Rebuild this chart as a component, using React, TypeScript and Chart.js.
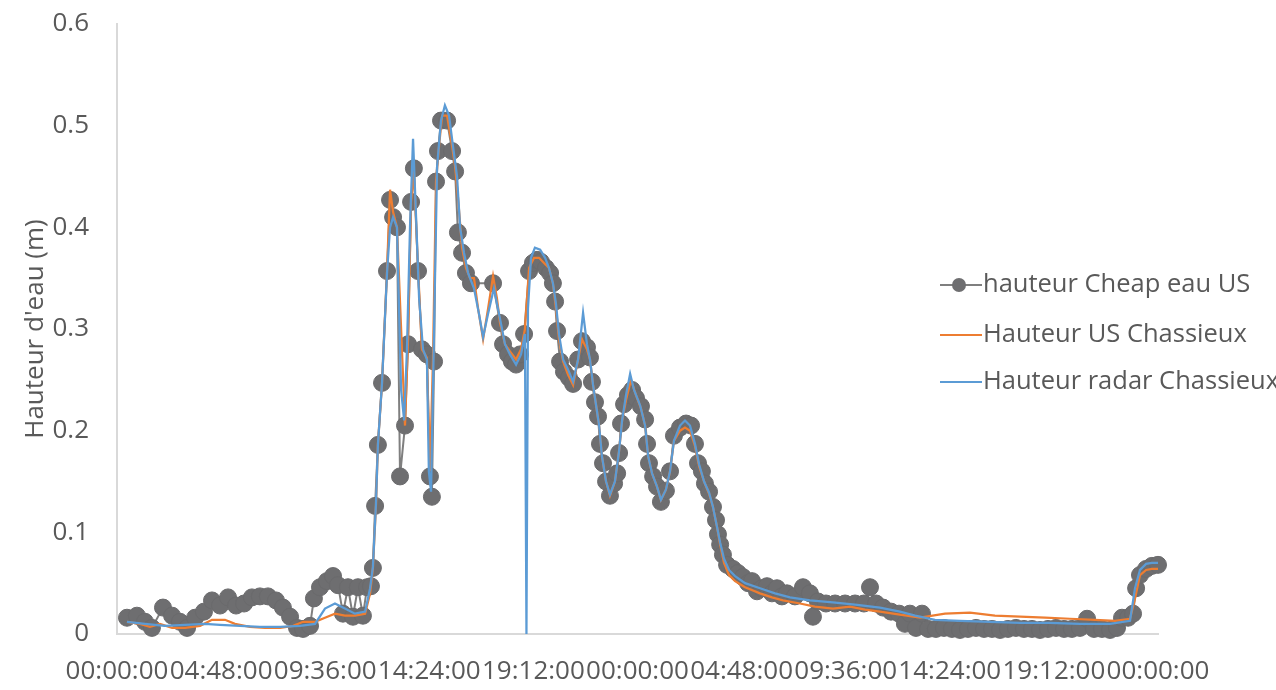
import React, { useEffect, useRef } from "react";
import { Chart, registerables } from "chart.js";

Chart.register(...registerables);

const FONT = "'Open Sans', 'Noto Sans', sans-serif";
const TEXT = "#595959";

// Time in hours from the start, water height in metres
const cheapTime = [0.46,0.92,1.29,1.61,2.12,2.54,2.90,3.23,3.60,4.01,4.38,4.75,5.12,5.49,5.86,6.22,6.59,6.96,7.33,7.65,7.98,8.30,8.58,8.90,9.08,9.36,9.68,9.96,10.19,10.42,10.65,10.88,11.11,11.34,11.53,11.71,11.80,11.90,12.03,12.22,12.45,12.59,12.73,12.91,13.05,13.28,13.42,13.56,13.69,13.88,14.06,14.29,14.43,14.52,14.62,14.71,14.80,14.94,15.22,15.45,15.59,15.72,15.91,16.09,16.32,17.34,17.66,17.80,18.03,18.21,18.40,18.58,18.77,19.00,19.18,19.37,19.55,19.78,19.97,20.10,20.20,20.29,20.43,20.61,20.84,21.03,21.26,21.44,21.67,21.81,21.90,22.04,22.18,22.27,22.41,22.55,22.73,22.92,23.06,23.15,23.24,23.38,23.56,23.75,23.93,24.16,24.35,24.44,24.53,24.72,24.90,25.08,25.31,25.50,25.68,25.96,26.24,26.47,26.65,26.79,26.97,27.11,27.30,27.48,27.62,27.71,27.81,27.94,28.13,28.40,28.63,28.86,29.10,29.28,29.51,29.74,29.97,30.20,30.43,30.66,30.89,31.26,31.63,31.95,32.09,32.32,32.69,33.11,33.57,34.03,34.44,34.72,35.00,35.32,35.69,36.06,36.33,36.56,36.84,37.12,37.40,37.76,38.13,38.50,38.87,39.24,39.61,39.98,40.35,40.72,41.08,41.45,41.82,42.19,42.56,42.93,43.30,43.67,44.03,44.40,44.73,45.05,45.42,45.79,46.11,46.34,46.62,46.85,46.99,47.17,47.45,47.72,48.00];
const cheapHeight = [0.016,0.018,0.012,0.006,0.026,0.018,0.012,0.006,0.016,0.022,0.033,0.028,0.036,0.028,0.030,0.036,0.037,0.037,0.033,0.026,0.017,0.006,0.005,0.008,0.035,0.046,0.052,0.057,0.048,0.020,0.046,0.017,0.046,0.018,0.046,0.047,0.065,0.126,0.186,0.247,0.357,0.427,0.410,0.400,0.155,0.205,0.285,0.425,0.458,0.357,0.280,0.275,0.155,0.135,0.268,0.445,0.475,0.505,0.505,0.475,0.455,0.395,0.375,0.355,0.345,0.345,0.306,0.285,0.275,0.268,0.265,0.275,0.295,0.357,0.365,0.368,0.366,0.360,0.355,0.345,0.327,0.298,0.268,0.258,0.252,0.246,0.270,0.288,0.282,0.272,0.248,0.228,0.214,0.187,0.168,0.150,0.136,0.148,0.158,0.178,0.207,0.226,0.235,0.240,0.232,0.224,0.211,0.187,0.168,0.155,0.145,0.130,0.141,0.160,0.195,0.203,0.207,0.205,0.187,0.168,0.160,0.148,0.140,0.125,0.112,0.098,0.088,0.078,0.068,0.064,0.060,0.056,0.050,0.052,0.042,0.045,0.047,0.040,0.045,0.037,0.040,0.037,0.046,0.040,0.017,0.032,0.030,0.030,0.030,0.030,0.030,0.046,0.030,0.026,0.022,0.020,0.010,0.020,0.006,0.020,0.005,0.005,0.006,0.005,0.004,0.005,0.006,0.005,0.005,0.004,0.005,0.006,0.005,0.005,0.004,0.005,0.006,0.005,0.005,0.006,0.015,0.005,0.005,0.004,0.006,0.016,0.016,0.020,0.045,0.058,0.064,0.067,0.068];

const usTime = [0.46,1.06,1.52,1.98,2.54,3.14,3.83,4.38,4.98,5.44,6.13,6.82,7.52,8.12,8.58,9.13,9.59,10.05,10.51,10.97,11.44,11.67,11.80,11.94,12.03,12.22,12.45,12.59,12.73,12.91,13.10,13.28,13.42,13.56,13.69,13.88,14.06,14.29,14.43,14.57,14.71,14.85,14.99,15.22,15.45,15.59,15.72,15.91,16.09,16.28,16.46,16.65,16.88,17.11,17.34,17.52,17.66,17.89,18.12,18.40,18.63,18.81,19.00,19.23,19.46,19.69,19.92,20.10,20.24,20.38,20.57,20.80,21.03,21.26,21.44,21.67,21.81,21.95,22.09,22.23,22.36,22.55,22.73,22.96,23.15,23.29,23.47,23.70,23.93,24.16,24.35,24.49,24.67,24.90,25.08,25.31,25.50,25.68,25.96,26.19,26.42,26.65,26.84,27.07,27.30,27.48,27.67,27.81,27.99,28.22,28.50,28.96,29.65,30.20,30.71,31.49,32.18,33.01,33.80,34.49,35.18,36.10,37.03,38.18,39.33,40.48,41.64,42.79,43.94,45.10,46.02,46.71,46.94,47.17,47.45,47.72,48.00];
const usHeight = [0.012,0.010,0.007,0.010,0.006,0.006,0.008,0.014,0.014,0.010,0.007,0.006,0.006,0.008,0.012,0.012,0.016,0.020,0.018,0.018,0.020,0.040,0.065,0.126,0.186,0.247,0.357,0.437,0.415,0.400,0.300,0.205,0.290,0.425,0.455,0.360,0.280,0.272,0.160,0.270,0.445,0.480,0.510,0.510,0.480,0.460,0.430,0.380,0.360,0.350,0.350,0.320,0.290,0.320,0.352,0.330,0.306,0.285,0.278,0.270,0.280,0.300,0.360,0.370,0.370,0.365,0.360,0.345,0.320,0.290,0.268,0.255,0.245,0.270,0.290,0.280,0.270,0.245,0.225,0.205,0.175,0.150,0.136,0.150,0.180,0.210,0.230,0.250,0.235,0.222,0.205,0.175,0.158,0.145,0.132,0.142,0.160,0.190,0.200,0.203,0.200,0.185,0.165,0.150,0.138,0.125,0.105,0.088,0.070,0.058,0.052,0.046,0.040,0.036,0.033,0.030,0.027,0.025,0.027,0.024,0.022,0.019,0.016,0.020,0.021,0.018,0.017,0.016,0.015,0.014,0.013,0.015,0.035,0.058,0.063,0.064,0.064];

const radarTime = [0.46,1.29,2.21,3.14,4.06,4.75,5.67,6.59,7.52,8.44,9.13,9.59,10.05,10.51,10.97,11.44,11.67,11.80,11.94,12.03,12.22,12.45,12.59,12.73,12.91,13.10,13.24,13.37,13.51,13.65,13.79,13.93,14.11,14.29,14.38,14.48,14.62,14.76,14.94,15.12,15.31,15.49,15.68,15.82,16.00,16.19,16.46,16.69,16.88,17.11,17.38,17.66,17.89,18.12,18.40,18.63,18.81,18.88,18.95,19.09,19.27,19.51,19.74,19.92,20.10,20.24,20.38,20.57,20.80,21.03,21.26,21.49,21.67,21.81,21.95,22.09,22.23,22.36,22.55,22.73,22.96,23.15,23.29,23.47,23.66,23.84,24.12,24.35,24.49,24.67,24.90,25.08,25.31,25.50,25.68,25.96,26.19,26.42,26.65,26.84,27.07,27.30,27.48,27.67,27.81,27.99,28.22,28.50,28.96,29.65,30.34,31.03,31.95,33.01,34.03,35.18,36.10,36.80,37.72,38.87,40.25,41.64,43.02,44.40,45.79,46.71,46.94,47.17,47.45,47.72,48.00];
const radarHeight = [0.012,0.010,0.008,0.009,0.010,0.009,0.008,0.007,0.007,0.008,0.010,0.025,0.030,0.025,0.020,0.022,0.045,0.066,0.128,0.186,0.247,0.355,0.400,0.410,0.400,0.240,0.210,0.280,0.400,0.487,0.410,0.330,0.280,0.270,0.160,0.140,0.300,0.460,0.505,0.520,0.510,0.480,0.450,0.400,0.375,0.355,0.340,0.315,0.292,0.315,0.340,0.310,0.285,0.275,0.265,0.275,0.295,0.000,0.320,0.370,0.380,0.378,0.370,0.360,0.345,0.325,0.295,0.270,0.260,0.248,0.270,0.316,0.285,0.270,0.245,0.225,0.205,0.175,0.150,0.137,0.150,0.180,0.210,0.235,0.256,0.240,0.225,0.205,0.175,0.158,0.145,0.132,0.142,0.160,0.190,0.205,0.210,0.205,0.187,0.167,0.150,0.139,0.125,0.105,0.090,0.074,0.063,0.057,0.050,0.045,0.040,0.036,0.033,0.031,0.029,0.026,0.022,0.018,0.014,0.013,0.012,0.011,0.011,0.010,0.010,0.013,0.045,0.063,0.069,0.070,0.070];

const xTickHours = [0, 4.8, 9.6, 14.4, 19.2, 24, 28.8, 33.6, 38.4, 43.2, 48];
const yTickValues = [0, 0.1, 0.2, 0.3, 0.4, 0.5, 0.6];
const yTickLabels = ["0", "0.1", "0.2", "0.3", "0.4", "0.5", "0.6"];

const seriesLabels = ["hauteur Cheap eau US", "Hauteur US Chassieux", "Hauteur radar Chassieux"];
const yAxisTitle = "Hauteur d'eau (m)";

const pad2 = (n: number) => String(n).padStart(2, "0");
const formatTime = (hours: number) => {
  const total = Math.round(hours * 60);
  const h = Math.floor(total / 60) % 24;
  const m = total % 60;
  return `${pad2(h)}:${pad2(m)}:00`;
};

const toPoints = (t: number[], v: number[]) => t.map((x, i) => ({ x, y: v[i] }));

const sideLegend = {
  id: "sideLegend",
  afterDraw(chart: any) {
    const { ctx, chartArea } = chart;
    const x0 = chartArea.right - 218;
    const yc = (chartArea.top + chartArea.bottom) / 2;
    const ys = [yc - 44, yc + 6, yc + 53];
    ctx.save();
    ctx.font = `25.5px ${FONT}`;
    ctx.textBaseline = "middle";
    ctx.textAlign = "left";
    chart.data.datasets.forEach((ds: any, i: number) => {
      const y = ys[i];
      ctx.strokeStyle = ds.borderColor;
      ctx.lineWidth = 2;
      ctx.beginPath();
      ctx.moveTo(x0, y);
      ctx.lineTo(x0 + 42, y);
      ctx.stroke();
      if (ds.pointRadius > 0) {
        ctx.fillStyle = ds.pointBackgroundColor;
        ctx.beginPath();
        ctx.arc(x0 + 19, y, 7, 0, Math.PI * 2);
        ctx.fill();
      }
      ctx.fillStyle = TEXT;
      ctx.fillText(ds.label, x0 + 43, y);
    });
    ctx.restore();
  },
};

export default function App() {
  const ref = useRef<HTMLCanvasElement | null>(null);

  useEffect(() => {
    if (!ref.current) return;
    const chart = new Chart(ref.current, {
      type: "line",
      data: {
        datasets: [
          {
            label: seriesLabels[0],
            data: toPoints(cheapTime, cheapHeight),
            borderColor: "#7f7f7f",
            borderWidth: 2,
            pointRadius: 8.5,
            pointBackgroundColor: "#6e6e70",
            pointBorderColor: "#6a6a6c",
            pointBorderWidth: 1,
            order: 3,
            clip: 14,
          },
          {
            label: seriesLabels[1],
            data: toPoints(usTime, usHeight),
            borderColor: "#ED7D31",
            borderWidth: 2.25,
            pointRadius: 0,
            order: 2,
            clip: 14,
          },
          {
            label: seriesLabels[2],
            data: toPoints(radarTime, radarHeight),
            borderColor: "#5B9BD5",
            borderWidth: 2.25,
            pointRadius: 0,
            order: 1,
            clip: 14,
          },
        ] as any,
      },
      options: {
        animation: false,
        responsive: false,
        devicePixelRatio: 1,
        layout: { padding: { top: 24, right: 118, bottom: 0, left: 0 } },
        elements: { line: { tension: 0 } },
        plugins: {
          legend: { display: false },
          tooltip: { enabled: false },
        },
        scales: {
          x: {
            type: "linear",
            min: 0,
            max: 48,
            afterFit: (s: any) => {
              s.height = 56;
            },
            afterBuildTicks: (s: any) => {
              s.ticks = xTickHours.map((value) => ({ value }));
            },
            grid: { display: true, drawOnChartArea: false, drawTicks: false },
            border: { display: true, color: "#d9d9d9", width: 2 },
            ticks: {
              autoSkip: false,
              maxRotation: 0,
              minRotation: 0,
              padding: 22,
              color: TEXT,
              font: { family: FONT, size: 26 },
              callback: (v: any) => formatTime(Number(v)),
            },
          },
          y: {
            type: "linear",
            min: 0,
            max: 0.6,
            afterFit: (s: any) => {
              s.width = 117;
            },
            afterBuildTicks: (s: any) => {
              s.ticks = yTickValues.map((value) => ({ value }));
            },
            grid: {
              display: true,
              drawOnChartArea: false,
              drawTicks: true,
              tickLength: 28,
              color: "rgba(0,0,0,0)",
            },
            border: { display: true, color: "#d9d9d9", width: 2 },
            ticks: {
              padding: 0,
              color: TEXT,
              font: { family: FONT, size: 26 },
              callback: (v: any) => {
                const idx = yTickValues.findIndex((t) => Math.abs(t - Number(v)) < 1e-9);
                return idx >= 0 ? yTickLabels[idx] : "";
              },
            },
            title: {
              display: true,
              text: yAxisTitle,
              color: TEXT,
              font: { family: FONT, size: 26 },
              padding: { top: 20, bottom: 0 },
            },
          },
        },
      },
      plugins: [sideLegend],
    });
    return () => chart.destroy();
  }, []);

  return (
    <div
      style={{
        position: "fixed",
        left: 0,
        top: 0,
        width: 1276,
        height: 690,
        overflow: "hidden",
        background: "#ffffff",
      }}
    >
      <canvas ref={ref} width={1276} height={690} style={{ display: "block", width: 1276, height: 690 }} />
    </div>
  );
}
